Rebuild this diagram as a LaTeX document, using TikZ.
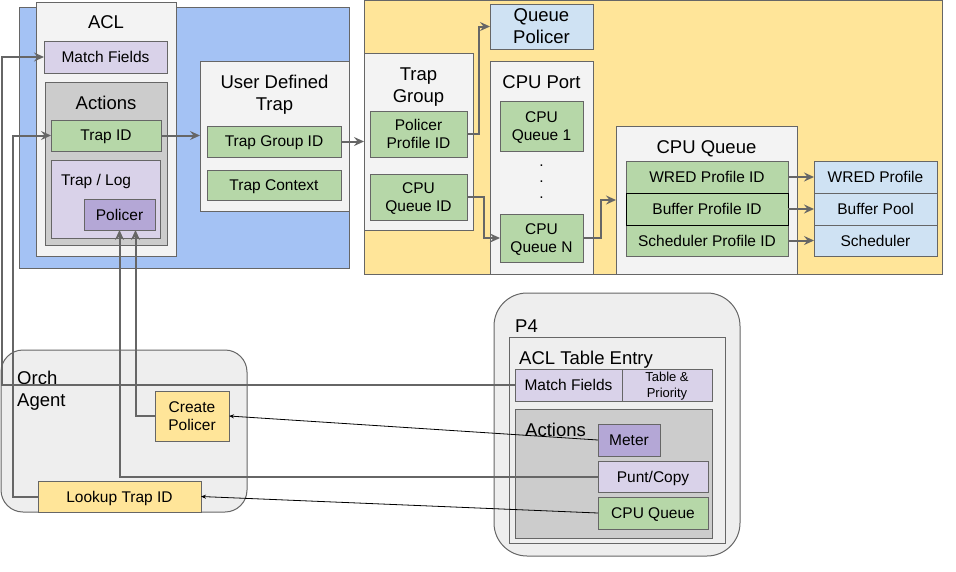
\documentclass[tikz,border=0pt]{standalone}
\usepackage{fontspec}
\setmainfont{Liberation Sans}
\usetikzlibrary{arrows.meta,positioning}

\definecolor{linegray}{HTML}{666666}
\definecolor{bluebg}{HTML}{A4C2F4}
\definecolor{yellowbg}{HTML}{FFE599}
\definecolor{panel}{HTML}{F3F3F3}
\definecolor{midgray}{HTML}{CCCCCC}
\definecolor{softgray}{HTML}{EEEEEE}
\definecolor{lilac}{HTML}{D9D2E9}
\definecolor{violet}{HTML}{B4A7D6}
\definecolor{sage}{HTML}{B6D7A8}
\definecolor{skyblue}{HTML}{CFE2F3}

\tikzset{
  box/.style={draw=linegray, line width=1pt, inner sep=0pt, outer sep=0pt,
    align=center, text depth=0pt, font=\fontsize{15.5}{18}\selectfont},
  titletext/.style={inner sep=0pt, align=center, text depth=0pt, font=\fontsize{18.5}{22}\selectfont},
  conn/.style={draw=linegray, line width=2pt, -{Stealth[length=10pt,width=9pt,inset=3.5pt]}},
  msgline/.style={draw=black, line width=0.8pt, -{Stealth[length=5pt,width=4pt]}}
}

\begin{document}
\begin{tikzpicture}[x=1pt,y=-1pt]
    \useasboundingbox (0,0) rectangle (956,571);

    % Background regions
    \draw[linegray, fill=bluebg] (19,7) rectangle (349,268);
    \draw[linegray, fill=yellowbg] (364,0.5) rectangle (942,274);

    % ACL
    \node[box, fill=panel, minimum width=140, minimum height=254] (acl) at (106,129) {};
    \node[titletext] (acltitle) at (106,22) {ACL};
    \node[box, fill=lilac, minimum width=123, minimum height=32] (aclmatch) at (105.5,57) {Match Fields};
    \node[box, fill=midgray, minimum width=122, minimum height=163] (aclactions) at (106,163.5) {};
    \node[titletext] (acttitle) at (106,103) {Actions};
    \node[box, fill=sage, minimum width=110, minimum height=31] (trapid) at (106,135.5) {Trap ID};
    \node[box, fill=lilac, minimum width=109, minimum height=78] (traplog) at (105.5,199) {};
    \node[box, draw=none, anchor=west] (traplogtitle) at (61,180) {Trap / Log};
    \node[box, fill=violet, minimum width=71, minimum height=31] (policer) at (119.5,214.5) {Policer};

    % User defined trap
    \node[box, fill=panel, minimum width=149, minimum height=150] (udt) at (274.5,136) {};
    \node[titletext] (udttitle) at (274.5,93) {User Defined\\Trap};
    \node[box, fill=sage, minimum width=134, minimum height=31] (trapgroupid) at (274,141.5) {Trap Group ID};
    \node[box, fill=sage, minimum width=134, minimum height=30] (trapcontext) at (274,185) {Trap Context};

    % Trap group
    \node[box, fill=panel, minimum width=109, minimum height=177] (trapgroup) at (418.5,141.5) {};
    \node[titletext] (tgtitle) at (418.5,85) {Trap\\Group};
    \node[box, fill=sage, minimum width=97, minimum height=46] (policerprofile) at (418.5,134) {Policer\\Profile ID};
    \node[box, fill=sage, minimum width=97, minimum height=46] (cpuqueueid) at (418.5,197) {CPU\\Queue ID};

    % Queue policer and CPU port
    \node[box, fill=skyblue, font=\fontsize{18.5}{22}\selectfont, minimum width=103, minimum height=45] (queuepolicer) at (541.5,26.5) {Queue\\Policer};
    \node[box, fill=panel, minimum width=103, minimum height=213] (cpuport) at (541.5,167.5) {};
    \node[titletext] (porttitle) at (541.5,82) {CPU Port};
    \node[box, fill=sage, minimum width=83, minimum height=50] (cpuq1) at (541.5,126) {CPU\\Queue 1};
    \foreach \i/\y in {1/166,2/182,3/198}
        \node[box, draw=none, anchor=base] (dot\i) at (541.5,\y) {.};
    \node[box, fill=sage, minimum width=83, minimum height=48] (cpuqn) at (541.5,238) {CPU\\Queue N};

    % CPU queue
    \node[box, fill=panel, minimum width=181, minimum height=148] (cpuqueue) at (706.5,200) {};
    \node[titletext] (cqtitle) at (706.5,147) {CPU Queue};
    \node[box, fill=sage, minimum width=162, minimum height=32] (wredid) at (707,177) {WRED Profile ID};
    \node[box, fill=sage, minimum width=162, minimum height=31] (schedid) at (707,240.5) {Scheduler Profile ID};
    \node[box, draw=black, fill=sage, minimum width=162, minimum height=32] (bufferid) at (707,209) {Buffer Profile ID};
    \node[box, fill=skyblue, minimum width=123, minimum height=32] (wred) at (875.5,177) {WRED Profile};
    \node[box, fill=skyblue, minimum width=123, minimum height=32] (bufpool) at (875.5,209) {Buffer Pool};
    \node[box, fill=skyblue, minimum width=123, minimum height=31] (sched) at (875.5,240.5) {Scheduler};

    % Orch agent
    \node[box, fill=softgray, rounded corners=22pt, minimum width=246, minimum height=162] (orch) at (124,431) {};
    \node[titletext, align=left, anchor=west] (orchtitle) at (17,389) {Orch\\Agent};
    \node[box, fill=yellowbg, minimum width=74, minimum height=50] (createpolicer) at (192,416) {Create\\Policer};
    \node[box, fill=yellowbg, minimum width=163, minimum height=31] (lookup) at (119.5,496.5) {Lookup Trap ID};

    % P4
    \node[box, fill=softgray, rounded corners=33pt, minimum width=246, minimum height=263] (p4) at (617,424.5) {};
    \node[titletext, anchor=west] (p4title) at (515,326) {P4};
    \node[box, fill=softgray, minimum width=216, minimum height=206] (aclentry) at (617,440) {};
    \node[titletext, anchor=west] (entrytitle) at (519,358) {ACL Table Entry};
    \node[box, fill=lilac, minimum width=107, minimum height=32] (p4match) at (568.5,385) {Match Fields};
    \node[box, fill=lilac, font=\fontsize{13}{16}\selectfont, minimum width=90, minimum height=32] (tablepri) at (667,385) {Table \&\\Priority};
    \node[box, fill=midgray, minimum width=197, minimum height=129] (p4actions) at (613.5,473.5) {};
    \node[titletext, anchor=west] (p4acttitle) at (525,430) {Actions};
    \node[box, fill=violet, minimum width=62, minimum height=32] (meter) at (629,440) {Meter};
    \node[box, fill=lilac, minimum width=110, minimum height=31] (punt) at (653,476.5) {Punt/Copy};
    \node[box, fill=sage, minimum width=110, minimum height=32] (p4cpuq) at (653,513) {CPU Queue};

    % Connectors in the top row
    \draw[conn] (trapid.east) -- (trapid.east -| udt.west);
    \draw[conn] (trapgroupid.east) -- (trapgroupid.east -| trapgroup.west);
    \draw[conn] (policerprofile.east) -- ++(12,0) |- (queuepolicer.west);
    \draw[conn] (cpuqueueid.east) -- ++(17,0) |- (cpuqn.west);
    \draw[conn] (cpuqn.east) -- ++(18,0) |- (cpuqueue.west);
    \foreach \src/\dst in {wredid/wred, bufferid/bufpool, schedid/sched}
        \draw[conn] (\src.east) -- (\dst.west);

    % Connectors back up to the ACL
    \coordinate (leftrail) at (2,0);
    \coordinate (lookuprail) at (13,0);
    \draw[conn] (p4match.west) -- (p4match.west -| leftrail) |- (aclmatch.west);
    \draw[conn] (lookup.west) -- (lookup.west -| lookuprail) |- (trapid.west);
    \draw[conn] (createpolicer.west) -| ([xshift=16pt]policer.south);
    \draw[conn] (punt.west) -| (policer.south);

    % P4 to orch agent
    \draw[msgline] (meter.west) -- (createpolicer.east);
    \draw[msgline] (p4cpuq.west) -- (lookup.east);
\end{tikzpicture}
\end{document}
